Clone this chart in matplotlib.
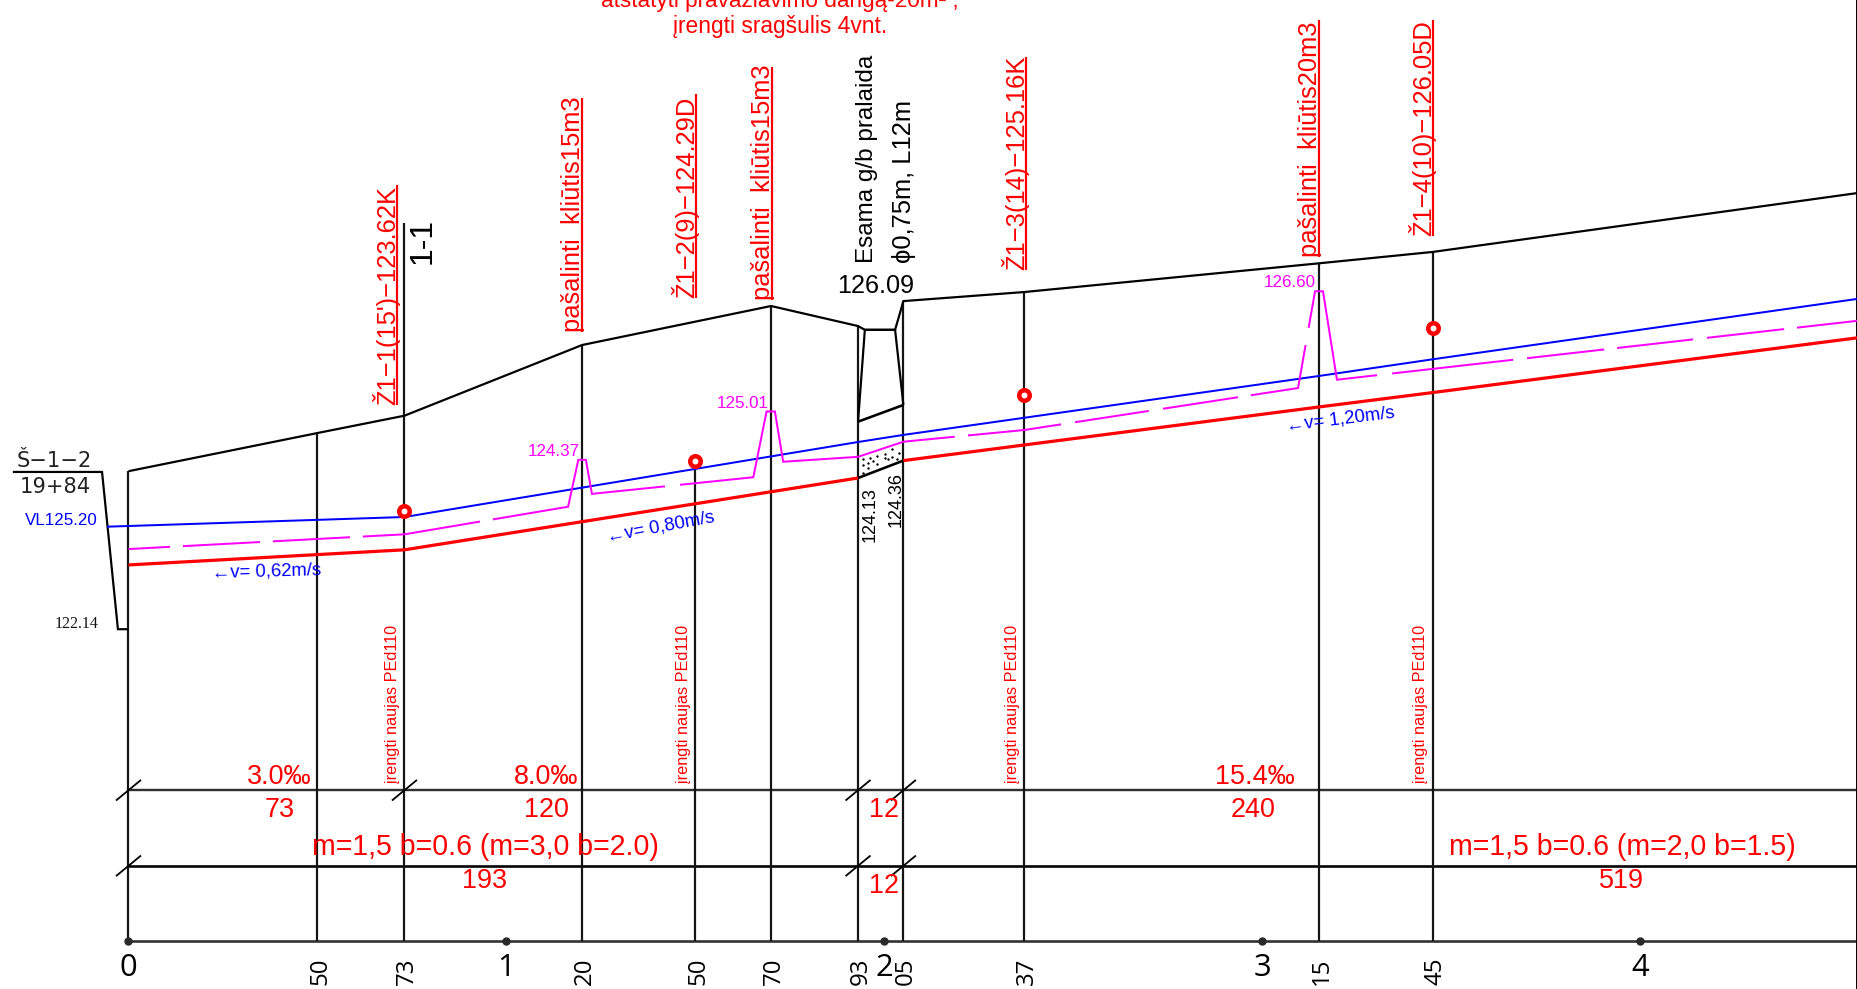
import numpy as np
import matplotlib
matplotlib.use("Agg")
import matplotlib.pyplot as plt
from matplotlib.transforms import Affine2D

# ---- data: chainage (m) and elevation (m) ----
GROUND_X = [0, 50, 73, 120, 170, 193, 194.8, 202.8, 205, 237, 315, 345, 457.5]
GROUND_E = [124.22, 124.725, 124.954, 125.889, 126.405, 126.14, 126.09, 126.09, 126.47, 126.59, 126.97, 127.12, 127.90]
WATER_X = [-5.7, 0, 73, 193, 205, 315, 345, 457.5]
WATER_E = [123.486, 123.495, 123.614, 124.606, 124.70, 125.48, 125.70, 126.50]
BED_LEFT_X = [0, 73, 193]
BED_LEFT_E = [122.98, 123.18, 124.13]
BED_RIGHT_X = [205, 237, 315, 345, 457.5]
BED_RIGHT_E = [124.36, 124.567, 125.07, 125.26, 125.985]
DESIGN_X = [0, 73, 116.3, 119, 121, 122.6, 165.3, 168.8, 171, 173.2, 193, 205, 237, 309.4, 313.9, 316, 319.7, 457.5]
DESIGN_E = [123.19, 123.385, 123.75, 124.37, 124.37, 123.92, 124.14, 125.01, 125.01, 124.345, 124.41, 124.61,
            124.765, 125.32, 126.60, 126.60, 125.43, 126.21]
GAP_FROM = [11.0, 34.8, 58.6, 93.0, 141.9, 218.6, 246.7, 269.9, 293.5, 311.4, 330.3, 366.3, 390.4, 413.9, 438.0]
GAP_TO = [14.4, 38.2, 62.0, 96.4, 145.9, 222.1, 250.4, 273.7, 296.9, 312.2, 334.3, 370.0, 393.8, 417.6, 441.4]
BANK_X = [-30.6, -7.0, -2.8, 0]
BANK_E = [124.21, 124.21, 122.13, 122.13]
CULVERT_X = [193, 194.8, 202.8, 205, 193]
CULVERT_E = [124.875, 126.09, 126.09, 125.096, 124.875]
CULVERT_BED_X = [193, 205]
CULVERT_BED_E = [124.13, 124.36]
FILL_DOT_X = [194.4, 196.1, 198.1, 200.1, 202.1, 203.9, 194.2, 195.7, 198.1, 200.1, 202.1, 203.4, 194.2, 195.7, 201.0, 197.0]
FILL_DOT_E = [124.377, 124.40, 124.42, 124.45, 124.515, 124.46, 124.30, 124.33, 124.32, 124.40, 124.41, 124.377,
              124.20, 124.26, 124.377, 124.36]
STATIONS = [0, 50, 73, 120, 150, 170, 193, 205, 237, 315, 345]
STATION_TOPS = [124.22, 124.725, 127.50, 125.889, 124.355, 126.405, 126.14, 126.47, 126.59, 126.97, 127.12]
WELL_X = [73, 150, 237, 345]
WELL_E = [123.69, 124.355, 125.23, 126.11]
ROW_E = [120, 119, 118]
ROW1_TICKS = [0, 73, 193, 205]
ROW2_TICKS = [0, 193, 205]
HECTO_X = [0, 100, 200, 300, 400]
HECTO_LABELS = ["0", "1", "2", "3", "4"]
SMALL_X = [50, 73, 120, 150, 170, 193, 205, 237, 315, 345]
SMALL_LABELS = ["50", "73", "20", "50", "70", "93", "05", "37", "15", "45"]

W, H = 1858, 989
RED, BLUE, MAG = "#ff0000", "#0000ff", "#ff00ff"
ARIAL = ["Liberation Sans", "DejaVu Sans"]
OPEN = ["Open Sans", "DejaVu Sans"]

fig = plt.figure(figsize=(W / 100, H / 100), dpi=100, facecolor="white")
ax = fig.add_axes([0, 0, 1, 1])
ax.set_xlim(-128.5 / 3.78, (W - 128.5) / 3.78)
ax.set_ylim(124.13 + (478 - H) / 75.6, 124.13 + 478 / 75.6)
ax.axis("off")
PX = Affine2D().scale(1, -1).translate(0, H)


def lw(px):
    return px * 0.72


def T(x, y, s, em, color="black", rot=0, ha="left", va="baseline", family=ARIAL):
    ax.text(x, y, s, transform=PX, fontsize=em * 0.72, color=color, rotation=rot, ha=ha, va=va,
            family=family, rotation_mode="anchor", clip_on=False, zorder=9)


def L(x, y, color="black", w=2.2, z=3):
    ax.plot(x, y, color=color, lw=lw(w), solid_capstyle="butt", solid_joinstyle="miter", zorder=z)


# rows and stations
L([0, 457.5], [ROW_E[0]] * 2, "#303030", 2.4)
L([0, 457.5], [ROW_E[1]] * 2, "black", 2.6)
L([0, 457.5], [ROW_E[2]] * 2, "#303030", 2.6)
for s, top in zip(STATIONS, STATION_TOPS):
    L([s, s], [ROW_E[2], top], "#151515", 2.2)
L([457.3, 457.3], [ROW_E[2] - 1, 131], "black", 2.0)

# tick slashes on rows
for row, ticks in ((ROW_E[0], ROW1_TICKS), (ROW_E[1], ROW2_TICKS)):
    for t in ticks:
        L([t - 12.5 / 3.78, t + 12.5 / 3.78], [row - 10.3 / 75.6, row + 10.3 / 75.6], "black", 1.8)

# profile lines
L(GROUND_X, GROUND_E)
L(BANK_X, BANK_E)
L(CULVERT_X[:4], CULVERT_E[:4])
L(CULVERT_X[3:], CULVERT_E[3:], "black", 2.6)
L(CULVERT_BED_X, CULVERT_BED_E, "black", 2.6)
ax.plot(FILL_DOT_X, FILL_DOT_E, "o", ms=lw(2.4), mfc="black", mec="none", zorder=2)
L(WATER_X, WATER_E, BLUE, 2.0, 5)
L(BED_LEFT_X, BED_LEFT_E, RED, 3.2, 5)
L(BED_RIGHT_X, BED_RIGHT_E, RED, 3.2, 5)

# design line, broken at its dash gaps
starts = [DESIGN_X[0]] + GAP_TO
ends = GAP_FROM + [DESIGN_X[-1]]
for a, b in zip(starts, ends):
    xs = [a] + [x for x in DESIGN_X if a < x < b] + [b]
    es = np.interp(xs, DESIGN_X, DESIGN_E)
    L(xs, es, MAG, 2.0, 6)

# wells
ax.plot(WELL_X, WELL_E, "o", ms=lw(10.5), mfc="white", mec=RED, mew=lw(4.5), zorder=8)
# hectometre dots
ax.plot(HECTO_X, [ROW_E[2]] * 5, "o", ms=lw(7), color="#2a2a2a", zorder=7)

# station labels
for x, s in zip(HECTO_X, HECTO_LABELS):
    T(128.5 + x * 3.78, 976, s, 31, ha="center", family=OPEN)
for x, s in zip(SMALL_X, SMALL_LABELS):
    T(128.5 + x * 3.78 + 8.5, 985, s, 24, rot=90, family=OPEN)

# rotated red notes with underline
NOTES = [
    (395, 405, 185, "Ž1−1(15')−123.62K"),
    (580, 332, 98, "pašalinti  kliūtis15m3"),
    (694, 298, 94, "Ž1−2(9)−124.29D"),
    (770, 300, 67, "pašalinti  kliūtis15m3"),
    (1024, 270, 57, "Ž1−3(14)−125.16K"),
    (1317, 257, 20, "pašalinti  kliūtis20m3"),
    (1431, 236, 20, "Ž1−4(10)−126.05D"),
]
for x, y0, y1, s in NOTES:
    T(x, y0, s, 25.5, RED, rot=90)
    ax.plot([x + 1.5, x + 1.5], [y0, y1], color=RED, lw=lw(2.2), transform=PX, solid_capstyle="butt", zorder=4)

T(431, 264, "1-1", 32, rot=90)
T(873, 263, "Esama g/b pralaida", 24.2, rot=90)
T(911, 263, "ϕ0,75m, L12m", 25.5, rot=90)
T(837, 293, "126.09", 25.3)
T(875, 542, "124.13", 18, rot=90)
T(901, 527, "124.36", 18, rot=90)

T(17, 467, "Š−1−2", 21, "#222222", family=["DejaVu Sans"])
T(20, 493, "19+84", 21, "#222222", family=["DejaVu Sans"])
T(25, 525, "VL125.20", 17, BLUE)
T(55, 628, "122.14", 16, "#111111", family=["Liberation Serif"])

T(212, 578, "←v= 0,62m/s", 18.5, BLUE, rot=1.5)
T(608, 542, "←v= 0,80m/s", 18.5, BLUE, rot=10.6)
T(1287, 431, "←v= 1,20m/s", 18.5, BLUE, rot=7)

T(528, 456, "124.37", 17, MAG)
T(717, 408, "125.01", 17, MAG)
T(1264, 287, "126.60", 17, MAG)

for x in (397, 688, 1016.5, 1425):
    T(x, 783, "įrengti naujas PEd110", 16.2, RED, rot=90)

T(780, 7, "atstatyti pravažiavimo dangą-20m² ,", 22.5, RED, ha="center")
T(780, 33, "įrengti sragšulis 4vnt.", 22.8, RED, ha="center")

T(247, 784, "3.0‰", 27, RED)
T(265, 817, "73", 27, RED)
T(514, 784, "8.0‰", 27, RED)
T(524, 817, "120", 27, RED)
T(1215, 784, "15.4‰", 27, RED)
T(1231, 817, "240", 27, RED)
T(869, 817, "12", 27, RED)
T(869, 893, "12", 27, RED)
T(312, 855, "m=1,5 b=0.6 (m=3,0 b=2.0)", 28.5, RED)
T(462, 888, "193", 27, RED)
T(1449, 855, "m=1,5 b=0.6 (m=2,0 b=1.5)", 28.5, RED)
T(1599, 888, "519", 27, RED)

fig.savefig("out.png", dpi=100, facecolor="white")
